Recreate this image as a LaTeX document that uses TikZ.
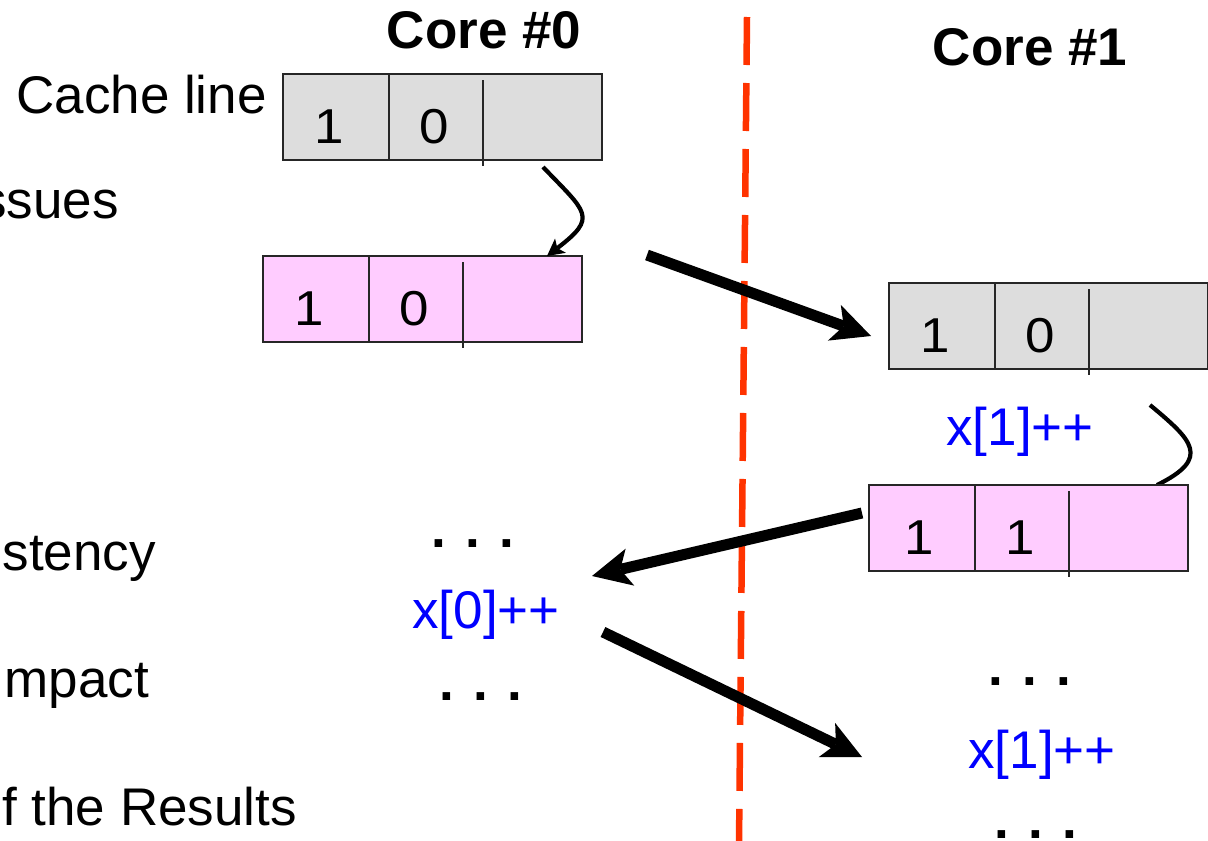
\documentclass[tikz,border=0pt]{standalone}
\usepackage{fontspec}
\setmainfont{Liberation Sans}
\usetikzlibrary{arrows.meta,calc}

\definecolor{cellgray}{HTML}{DDDDDD}
\definecolor{cellpink}{HTML}{FFCCFF}
\definecolor{corediv}{HTML}{FF3300}
\definecolor{opblue}{HTML}{0000FF}

% one cache line: #1 name, #2 top-left corner, #3 fill,
% #4/#5 the two digits, #6 x offset of the first digit
\newcommand\drawcacheline[6]{%
  \node[cellbox, fill=#3, anchor=north west] (#1) at (#2) {};
  \draw[cellrule] ($(#1.north west)+(106,0)$) -- ($(#1.south west)+(106,0)$);
  \draw[cellrule] ($(#1.north west)+(200,6)$) -- ($(#1.south west)+(200,6)$);
  \node[digit] (#1-d1) at ($(#1.north west)+(#6,69)$) {#4};
  \node[digit] (#1-d2) at ($(#1.north west)+(151,69)$) {#5};
}

\begin{document}
\begin{tikzpicture}[x=1pt, y=-1pt,
  cellbox/.style={draw=black!85, line width=1.6pt, minimum width=319pt,
    minimum height=86pt, inner sep=0pt, outer sep=0pt},
  cellrule/.style={draw=black!85, line width=1.6pt},
  digit/.style={anchor=base, inner sep=0pt, xscale=1.08,
    font=\fontsize{49}{56}\selectfont},
  lbl/.style={inner sep=0pt, font=\fontsize{53}{60}\selectfont},
  corehead/.style={anchor=base, inner sep=0pt, font=\fontsize{53}{60}\selectfont\bfseries},
  op/.style={anchor=base, inner sep=0pt, text=opblue, font=\fontsize{53}{60}\selectfont},
  dots/.style={anchor=base, inner sep=0pt, font=\fontsize{53}{60}\selectfont\bfseries},
  bigarrow/.style={line width=11pt,
    -{Stealth[length=39pt, width=38pt, inset=10pt, line width=0pt]}},
  thincurve/.style={line width=4.2pt}
]
\useasboundingbox (0,0) rectangle (1208,841);

% side labels
\node[lbl, anchor=base east] (lcache)  at (267,113) {Cache line};
\node[lbl, anchor=base east] (lissues) at (119,218) {ssues};
\node[lbl, anchor=base east] (lcons)   at (156,570) {stency};
\node[lbl, anchor=base east] (limpact) at (149,697) {mpact};
\node[lbl, anchor=base east] (lres)    at (297,825) {f the Results};

% core headings and the dividing line
\node[corehead] (core0) at (484,48) {Core \#0};
\node[corehead] (core1) at (1030,65) {Core \#1};
\coordinate (divtop) at (747,17);
\coordinate (divbot) at (739,845);
\draw[corediv, line width=6.5pt, dash pattern=on 48pt off 18pt] (divtop) -- (divbot);

% curve from the upper right line into the modified copy
\coordinate (c2s) at (1150,405);
\coordinate (c2e) at (1157,485);
\draw[thincurve] (c2s) .. controls (1192,440) and (1212,458) .. (c2e);

% cache lines
\drawcacheline{lineA}{283,74}{cellgray}{1}{0}{46}
\drawcacheline{lineB}{263,256}{cellpink}{1}{0}{46}
\drawcacheline{lineC}{889,283}{cellgray}{1}{0}{46}
\drawcacheline{lineD}{869,485}{cellpink}{1}{1}{50}

% load into the modified copy on core 0
\draw[thincurve, -{Stealth[length=17pt, width=18pt, inset=4pt, line width=0pt]}]
  ($(lineA.south west)+(260,7)$) .. controls (587,213) and (598,217) ..
  ($(lineB.north west)+(284,0)$);

% operations
\node[op] (inc1a) at (1020,445) {x[1]++};
\node[dots] (dotsL1) at (473,547) {. . .};
\node[op] (inc0)  at (486,628) {x[0]++};
\node[dots] (dotsL2) at (481,700) {. . .};
\node[dots] (dotsR1) at (1030,685) {. . .};
\node[op] (inc1b) at (1042,768) {x[1]++};
\node[dots] (dotsR2) at (1036,838) {. . .};

% transfers between the cores
\coordinate (t1s) at (647,255);
\coordinate (t1e) at (871,336);
\coordinate (t2s) at (862,513);
\coordinate (t2e) at (592,576);
\coordinate (t3s) at (603,632);
\coordinate (t3e) at (862,757);
\draw[bigarrow] (t1s) -- (t1e);
\draw[bigarrow] (t2s) -- (t2e);
\draw[bigarrow] (t3s) -- (t3e);
\end{tikzpicture}
\end{document}
